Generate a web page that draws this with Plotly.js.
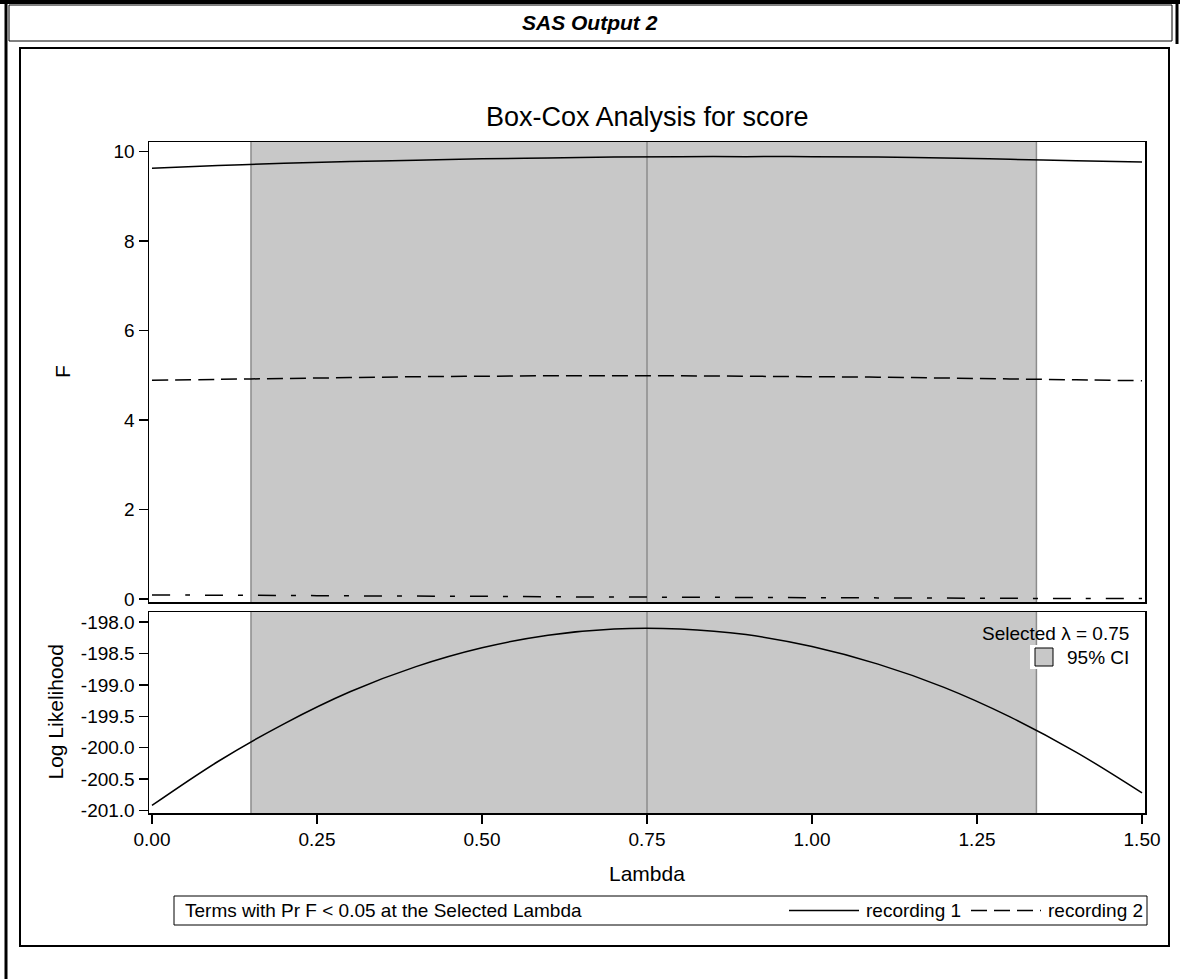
<!DOCTYPE html>
<html>
<head>
<meta charset="utf-8">
<script src="https://cdn.plot.ly/plotly-3.0.1.min.js"></script>
<style>
html,body{margin:0;padding:0;background:#fff;}
#chart{width:1180px;height:979px;}
</style>
</head>
<body>
<div id="chart"></div>
<script>
// ---- data ----
const lambda = [0.0,0.1,0.2,0.3,0.4,0.5,0.6,0.7,0.8,0.9,1.0,1.1,1.2,1.3,1.4,1.5];
const fRecording1 = [9.63,9.69,9.74,9.78,9.81,9.84,9.86,9.88,9.89,9.89,9.89,9.88,9.86,9.83,9.80,9.77];
const fRecording2 = [4.89,4.91,4.93,4.95,4.97,4.98,4.99,4.99,4.99,4.98,4.97,4.96,4.94,4.92,4.90,4.88];
const fOther      = [0.09,0.085,0.08,0.07,0.065,0.06,0.05,0.045,0.04,0.035,0.03,0.025,0.02,0.015,0.01,0.01];
const logLik      = [-200.92,-200.22,-199.62,-199.11,-198.71,-198.41,-198.21,-198.11,-198.11,-198.20,-198.39,-198.67,-199.04,-199.51,-200.07,-200.72];
const selectedLambda = 0.75;
const ciLower = 0.15;
const ciUpper = 1.34;
const legendNames = ["recording 1","recording 2"];
const legendTitle = "Terms with Pr F < 0.05 at the Selected Lambda";
const xTicks = [0,0.25,0.5,0.75,1.0,1.25,1.5];
const xTickText = ["0.00","0.25","0.50","0.75","1.00","1.25","1.50"];
const fTicks = [0,2,4,6,8,10];
const llTicks = [-201.0,-200.5,-200.0,-199.5,-199.0,-198.5,-198.0];
const llTickText = ["-201.0","-200.5","-200.0","-199.5","-199.0","-198.5","-198.0"];

// ---- layout geometry (pixels) ----
const W = 1180, H = 979;
const L = 149, R = 1145, T = 142, B = 813;
const pw = R - L, ph = B - T;
const px = x => (x - L) / pw;
const py = y => (B - y) / ph;
const FONT = "Liberation Sans, Arial, sans-serif";
const VAL = 19, LAB = 21;
const DASH2 = '16px,7px';
const DASH3 = '18px,15px,5px,15px';

const traces = [
  {x: lambda, y: fRecording1, type:'scatter', mode:'lines', name:legendNames[0],
   line:{color:'#000', width:1.5, shape:'spline'}, xaxis:'x', yaxis:'y'},
  {x: lambda, y: fRecording2, type:'scatter', mode:'lines', name:legendNames[1],
   line:{color:'#000', width:1.5, dash:DASH2, shape:'spline'}, xaxis:'x', yaxis:'y'},
  {x: lambda, y: fOther, type:'scatter', mode:'lines', name:'other',
   line:{color:'#000', width:1.5, dash:DASH3, shape:'spline'}, xaxis:'x', yaxis:'y'},
  {x: lambda, y: logLik, type:'scatter', mode:'lines', name:'loglik',
   line:{color:'#000', width:1.5, shape:'spline'}, xaxis:'x2', yaxis:'y2'}
];

const shapes = [];
[['x','y'],['x2','y2']].forEach(([xa,ya]) => {
  shapes.push({type:'rect', xref:xa, yref:ya+' domain', x0:ciLower, x1:ciUpper, y0:0, y1:1,
    fillcolor:'#c8c8c8', line:{width:0}, layer:'below'});
  [ciLower, selectedLambda, ciUpper].forEach(v => shapes.push({type:'line', xref:xa, yref:ya+' domain',
    x0:v, x1:v, y0:0, y1:1, line:{color:'#8c8c8c', width:1.5}, layer:'below'}));
});
function box(x0,y0,x1,y1,w,fill){
  shapes.push({type:'rect', xref:'paper', yref:'paper', x0:px(x0), x1:px(x1), y0:py(y1), y1:py(y0),
    line:{color:'#000', width:w}, fillcolor:fill||'rgba(0,0,0,0)', layer:'above'});
}
function seg(x0,y0,x1,y1,w,dash){
  shapes.push({type:'line', xref:'paper', yref:'paper', x0:px(x0), x1:px(x1), y0:py(y0), y1:py(y1),
    line:{color:'#000', width:w, dash:dash||'solid'}, layer:'above'});
}
// page frames
seg(0, 2, W, 2, 4);
seg(6, 0, 6, H, 3);
seg(1177, 0, 1177, 44, 3);
box(9, 5, 1172, 41, 1);      // header box
box(20, 48, 1169, 946, 2);   // graph box
// 95% CI inset
shapes.push({type:'rect', xref:'paper', yref:'paper', x0:px(1030), x1:px(1132), y0:py(669), y1:py(645),
  fillcolor:'#fff', line:{width:0}, layer:'above'});
box(1035, 648, 1053, 666, 1, '#c8c8c8');
// bottom legend
box(174, 896, 1147, 925, 1);
seg(789, 910.5, 859, 910.5, 1.5);
seg(971, 910.5, 1041, 910.5, 1.5, DASH2);

const ann = (text, x, y, opt) => Object.assign({text, xref:'paper', yref:'paper', x:px(x), y:py(y),
  showarrow:false, xanchor:'center', yanchor:'middle',
  font:{family:FONT, size:VAL, color:'#000'}}, opt||{});

const annotations = [
  ann('<b><i>SAS Output 2</i></b>', 590, 22, {font:{family:FONT, size:21, color:'#000'}}),
  ann('Box-Cox Analysis for score', L+pw/2, 117, {font:{family:FONT, size:27, color:'#000'}}),
  ann('F', 62, (T+602)/2, {textangle:-90, font:{family:FONT, size:LAB, color:'#000'}}),
  ann('Log Likelihood', 55, (612+B)/2, {textangle:-90, font:{family:FONT, size:LAB, color:'#000'}}),
  ann('Lambda', L+pw/2, 873, {font:{family:FONT, size:LAB, color:'#000'}}),
  ann('Selected \u03bb = 0.75', 1131, 633, {xanchor:'right'}),
  ann('95% CI', 1131, 657, {xanchor:'right'}),
  ann(legendTitle, 183, 910.5, {xanchor:'left'}),
  ann(legendNames[0], 864, 910.5, {xanchor:'left'}),
  ann(legendNames[1], 1046, 910.5, {xanchor:'left'})
];

const axisCommon = {showline:true, linecolor:'#000', linewidth:1.5, mirror:true, showgrid:false,
  zeroline:false, ticks:'outside', ticklen:9, tickwidth:1.5, tickcolor:'#000',
  tickfont:{family:FONT, size:VAL, color:'#000'}};

const layout = {
  width: W, height: H,
  margin:{l:L, r:W-R, t:T, b:H-B, pad:0},
  paper_bgcolor:'#fff', plot_bgcolor:'#fff',
  font:{family:FONT, color:'#000'},
  showlegend:false,
  xaxis: Object.assign({}, axisCommon, {anchor:'y', matches:'x2', range:[-0.0045,1.5045],
    showticklabels:false, ticks:'', tickvals:xTicks}),
  xaxis2: Object.assign({}, axisCommon, {anchor:'y2', range:[-0.0045,1.5045],
    tickvals:xTicks, ticktext:xTickText}),
  yaxis: Object.assign({}, axisCommon, {domain:[py(602),1], range:[-0.067,10.217], tickvals:fTicks}),
  yaxis2: Object.assign({}, axisCommon, {domain:[0, py(612)], range:[-201.04,-197.84],
    tickvals:llTicks, ticktext:llTickText}),
  shapes: shapes,
  annotations: annotations
};

Plotly.newPlot('chart', traces, layout, {displayModeBar:false, staticPlot:true});
</script>
</body>
</html>
